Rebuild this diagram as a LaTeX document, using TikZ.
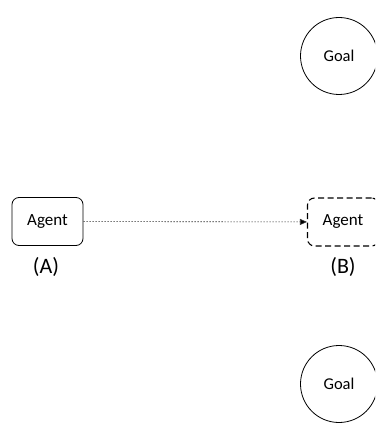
\documentclass[tikz,border=0pt]{standalone}
\usepackage{fontspec}
\setmainfont{Carlito}
\usetikzlibrary{arrows.meta}
\begin{document}
\begin{tikzpicture}[x=1pt,y=-1pt,
  agentbox/.style={draw, rounded corners=7pt, minimum width=71pt, minimum height=48pt,
    inner sep=0pt, font=\fontsize{17}{19}\selectfont},
  goalnode/.style={draw, circle, line width=0.8pt, minimum size=77pt, inner sep=0pt,
    font=\fontsize{16.5}{18}\selectfont},
  caption/.style={font=\fontsize{22}{24}\selectfont, inner sep=0pt},
  move/.style={dash pattern=on 1.5pt off 1.5pt, line width=0.6pt, draw=black!80,
    -{Triangle[length=7pt,width=6pt,fill=black]}}]
  \useasboundingbox (0,0) rectangle (375,425);
  \clip (0,0) rectangle (375,425);
  \node[goalnode] (goaltop) at (339,56) {Goal};
  \node[goalnode] (goalbot) at (339,384) {Goal};
  \node[agentbox, line width=0.8pt] (agentA) at (47.5,221.5) {Agent};
  \node[agentbox, dashed, dash pattern=on 6pt off 3.5pt, line width=1.1pt] (agentB) at (343,222) {Agent};
  \node[caption] (capA) at (46,267) {(A)};
  \node[caption] (capB) at (343,267) {(B)};
  \draw[move] (agentA) -- (agentB);
\end{tikzpicture}
\end{document}
